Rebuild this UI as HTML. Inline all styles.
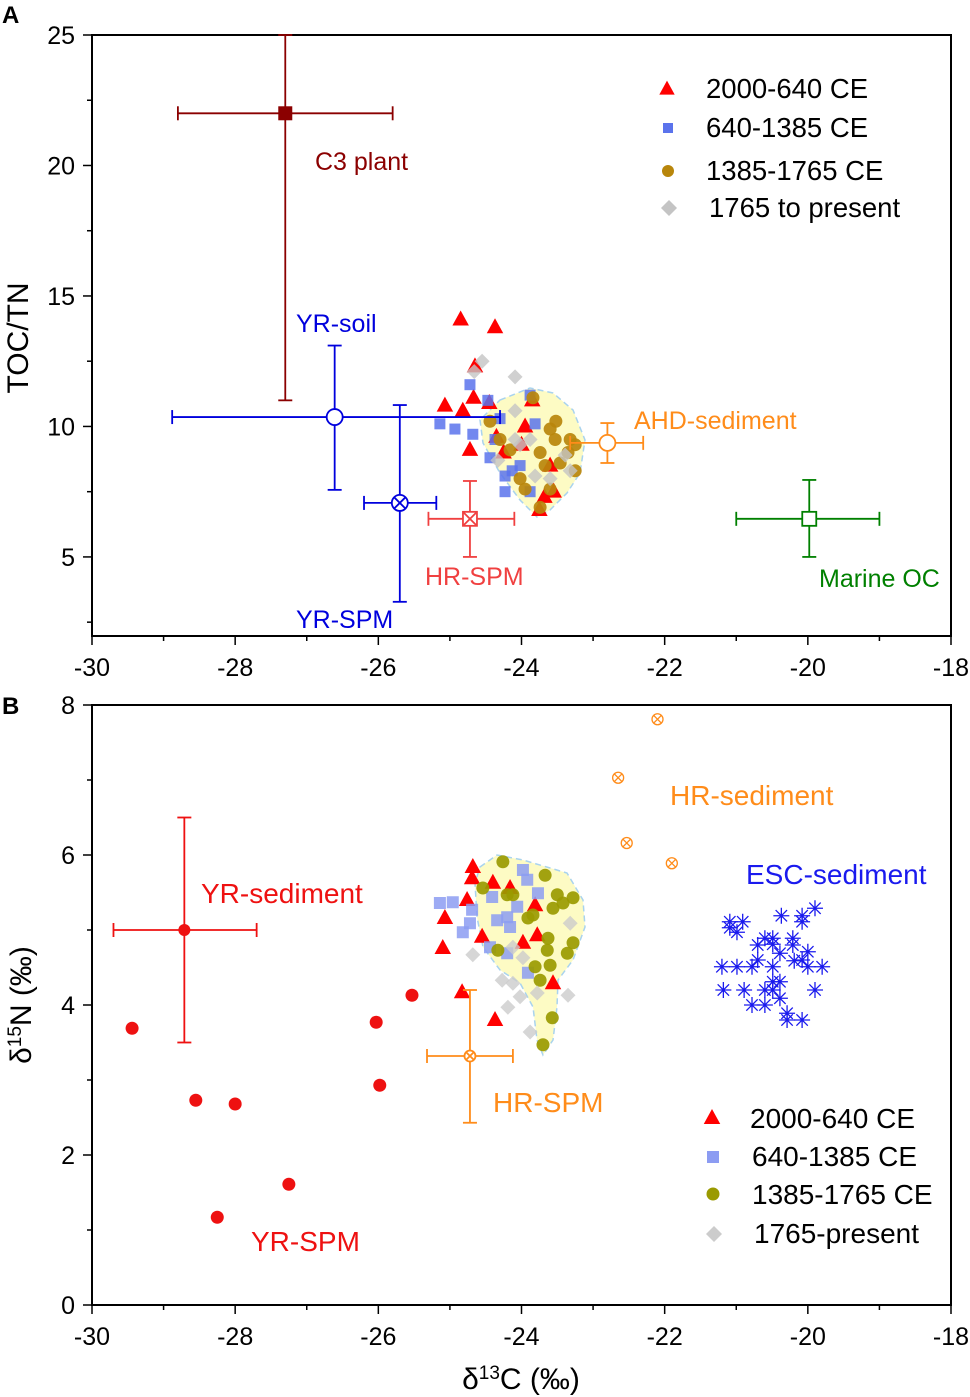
<!DOCTYPE html>
<html><head><meta charset="utf-8"><style>
html,body{margin:0;padding:0;background:#fff;}
svg{display:block;font-family:"Liberation Sans",Arial,sans-serif;}
</style></head><body>
<svg id="chart" width="970" height="1397" viewBox="0 0 970 1397" xmlns="http://www.w3.org/2000/svg">
<g id="A"></g>
<g id="B"></g>
</svg>
<script>
// ---- data ----
const xTicks=[-30,-28,-26,-24,-22,-20,-18];
const yTicksA=[5,10,15,20,25];
const yTicksB=[0,2,4,6,8];
const triA=[[-24.85,14.1],[-24.37,13.8],[-24.65,12.3],[-25.07,10.8],[-24.82,10.6],[-24.67,11.1],[-24.72,9.1],[-24.45,10.9],[-23.85,11.0],[-23.95,10.0],[-24.25,9.0],[-24.35,9.6],[-23.68,7.3],[-23.75,6.8],[-23.55,7.5],[-24.0,9.3],[-23.6,8.5]];
const sqA=[[-24.72,11.6],[-24.47,11.0],[-25.14,10.1],[-24.93,9.9],[-24.68,9.7],[-24.44,8.8],[-24.23,8.1],[-24.23,7.5],[-23.88,7.5],[-23.88,11.2],[-23.81,10.1],[-24.13,8.3],[-24.02,8.5],[-24.3,10.3],[-24.37,9.5]];
const ciA=[[-23.84,11.1],[-23.52,10.2],[-23.6,9.9],[-23.53,9.5],[-23.32,9.5],[-23.74,9.0],[-23.67,8.5],[-23.46,8.6],[-23.25,8.3],[-23.6,7.6],[-23.95,7.6],[-24.02,8.0],[-24.3,9.5],[-24.44,10.2],[-23.35,9.0],[-23.74,6.9],[-24.16,9.1],[-23.25,9.3]];
const diA=[[-24.55,12.5],[-24.66,12.1],[-24.09,11.9],[-24.09,10.6],[-24.09,9.5],[-24.33,8.7],[-23.88,9.5],[-23.32,8.3],[-23.39,8.9],[-23.6,8.0],[-24.02,9.3],[-23.81,8.1]];
// endmembers A: [x, y, xlo, xhi, ylo, yhi]
const c3A=[-27.3,22.0,-28.8,-25.8,11.0,25.0];
const yrSoilA=[-26.61,10.36,-28.88,-24.3,7.57,13.1];
const yrSpmA=[-25.7,7.07,-26.2,-25.19,3.28,10.82];
const hrSpmA=[-24.72,6.46,-25.3,-24.1,5.0,7.91];
const ahdA=[-22.8,9.37,-23.32,-22.3,8.6,10.13];
const marineA=[-19.98,6.46,-21.0,-19.0,5.0,7.95];

const triB=[[-24.68,5.84],[-24.69,5.69],[-25.07,5.16],[-25.10,4.76],[-24.83,4.17],[-24.37,3.80],[-24.40,5.63],[-24.16,5.56],[-23.81,5.33],[-23.78,4.93],[-23.98,4.83],[-24.76,5.40],[-24.55,4.91],[-23.56,4.29]];
const sqB=[[-25.14,5.36],[-24.96,5.37],[-24.69,5.27],[-24.72,5.09],[-24.82,4.97],[-23.98,5.80],[-23.92,5.67],[-23.77,5.49],[-24.06,5.31],[-24.20,5.17],[-24.34,5.13],[-24.16,5.04],[-24.44,4.77],[-24.20,4.69],[-23.91,4.43],[-24.41,5.44]];
const ciB=[[-24.26,5.91],[-23.67,5.73],[-24.54,5.56],[-24.20,5.47],[-24.12,5.47],[-23.50,5.47],[-23.28,5.43],[-23.56,5.29],[-23.42,5.36],[-23.84,5.20],[-23.91,5.16],[-23.63,4.89],[-23.64,4.73],[-23.28,4.83],[-23.36,4.69],[-24.33,4.73],[-23.81,4.51],[-23.60,4.53],[-23.74,4.33],[-23.57,3.83],[-23.70,3.47]];
const diB=[[-24.68,4.67],[-23.32,5.09],[-24.27,4.33],[-24.12,4.29],[-24.02,4.11],[-24.19,3.97],[-23.88,3.64],[-23.35,4.13],[-23.78,4.16],[-23.98,4.63],[-24.12,4.77]];
const yrSpmB=[[-29.44,3.69],[-28.55,2.73],[-28.0,2.68],[-27.25,1.61],[-28.25,1.17],[-26.03,3.77],[-25.98,2.93],[-25.53,4.13]];
const yrSedB=[-28.71,5.0,-29.7,-27.7,3.5,6.5];
const hrSpmB=[-24.72,3.32,-25.32,-24.12,2.43,4.2];
const hrSedB=[[-22.1,7.81],[-22.65,7.03],[-22.53,6.16],[-21.9,5.89]];
const escB=[[-19.90,5.29],[-20.37,5.19],[-20.08,5.19],[-20.08,5.11],[-21.09,5.11],[-20.91,5.11],[-21.09,5.03],[-20.99,4.97],[-20.60,4.89],[-20.49,4.89],[-20.21,4.89],[-20.70,4.80],[-20.49,4.81],[-20.21,4.80],[-20.39,4.69],[-20.00,4.71],[-20.70,4.60],[-20.19,4.59],[-20.08,4.60],[-21.20,4.51],[-20.99,4.51],[-20.78,4.51],[-20.49,4.51],[-20.00,4.51],[-19.80,4.51],[-20.49,4.31],[-20.39,4.31],[-21.18,4.20],[-20.89,4.20],[-20.60,4.20],[-20.49,4.20],[-19.90,4.20],[-20.78,4.00],[-20.60,4.00],[-20.39,4.09],[-20.29,3.89],[-20.29,3.80],[-20.08,3.80]];

// ---- helpers ----
const NS="http://www.w3.org/2000/svg";
function mk(tag,attrs,parent){const e=document.createElementNS(NS,tag);for(const k in attrs)e.setAttribute(k,attrs[k]);parent.appendChild(e);return e;}
const X0=92,X1=951;
const sx=v=>X0+(v+30)/12*(X1-X0);
const pA={top:35,bot:636,min:1.97,max:25,labelY:23};
const pB={top:705,bot:1305,min:0,max:8,labelY:714};
const syA=v=>pA.top+(pA.max-v)/(pA.max-pA.min)*(pA.bot-pA.top);
const syB=v=>pB.top+(pB.max-v)/(pB.max-pB.min)*(pB.bot-pB.top);

function axes(g,p,sy,yTicks,yMinor,label){
  const f=mk('rect',{x:X0,y:p.top,width:X1-X0,height:p.bot-p.top,fill:'none',stroke:'#000','stroke-width':2},g);
  
  for(let v=-30;v<=-18;v+=1){const t=mk('line',{x1:sx(v),x2:sx(v),y1:p.bot,y2:p.bot+(v%2===0?9:5),stroke:'#000','stroke-width':1.5},g);}
  xTicks.forEach(v=>{const t=mk('text',{x:sx(v),y:p.bot+40,'font-size':25,'text-anchor':'middle'},g);t.textContent=v;});
  const start=Math.ceil(p.min/yMinor-1e-6);
  for(let k=start;k*yMinor<=p.max+1e-6;k++){const v=k*yMinor;const maj=yTicks.some(t=>Math.abs(t-v)<1e-6);const t=mk('line',{x1:X0-(maj?9:5),x2:X0,y1:sy(v),y2:sy(v),stroke:'#000','stroke-width':1.5},g);}
  yTicks.forEach(v=>{const t=mk('text',{x:X0-17,y:sy(v)+9,'font-size':25,'text-anchor':'end'},g);t.textContent=v;});
  const pl=mk('text',{x:2,y:p.labelY,'font-size':24,'font-weight':'bold'},g);pl.textContent=label;
}
function tri(g,x,y,s,fill,op){return mk('polygon',{points:`${x},${y-s*0.6} ${x+s*0.55},${y+s*0.4} ${x-s*0.55},${y+s*0.4}`,fill:fill,'fill-opacity':op},g);}
function sq(g,x,y,s,fill,op){return mk('rect',{x:x-s/2,y:y-s/2,width:s,height:s,fill:fill,'fill-opacity':op},g);}
function ci(g,x,y,r,fill,op){return mk('circle',{cx:x,cy:y,r:r,fill:fill,'fill-opacity':op},g);}
function di(g,x,y,s,fill,op){return mk('polygon',{points:`${x},${y-s} ${x+s},${y} ${x},${y+s} ${x-s},${y}`,fill:fill,'fill-opacity':op},g);}
function errbar(g,d,sy,color,name){
  const gg=mk('g',{stroke:color,'stroke-width':1.8,fill:'none'},g);
  
  const x=sx(d[0]),y=sy(d[1]);
  mk('line',{x1:sx(d[2]),x2:sx(d[3]),y1:y,y2:y},gg);
  mk('line',{x1:x,x2:x,y1:sy(d[4]),y2:sy(d[5])},gg);
  [d[2],d[3]].forEach(v=>mk('line',{x1:sx(v),x2:sx(v),y1:y-7,y2:y+7},gg));
  [d[4],d[5]].forEach(v=>mk('line',{x1:x-7,x2:x+7,y1:sy(v),y2:sy(v)},gg));
  return [gg,x,y];
}
function txt(g,x,y,s,color,size,name){const t=mk('text',{x:x,y:y,fill:color,'font-size':size},g);t.textContent=s;return t;}

// ---- Panel A ----
const A=document.getElementById('A');
axes(A,pA,syA,yTicksA,2.5,'A');
const yt=txt(A,0,0,'TOC/TN','#000',30,'y-axis-title');yt.setAttribute('transform','translate(28,338) rotate(-90)');yt.setAttribute('text-anchor','middle');
const blobA=mk('path',{d:'M500,400 L530,388 L553,393 L573,410 L585,440 L580,473 L567,493 L550,510 L537,517 L520,500 L500,473 L483,443 L480,420 Z',fill:'#fdfbc4',stroke:'#a9d3ee','stroke-width':1.5,'stroke-dasharray':'6,4'},A);

triA.forEach(d=>{const e=tri(A,sx(d[0]),syA(d[1]),15,'#ff0000',1);});
sqA.forEach(d=>{const e=sq(A,sx(d[0]),syA(d[1]),11,'#5b73ec',0.85);});
ciA.forEach(d=>{const e=ci(A,sx(d[0]),syA(d[1]),6.5,'#b8860b',0.92);});
diA.forEach(d=>{const e=di(A,sx(d[0]),syA(d[1]),7.5,'#c4c4c4',0.8);});
let r;
r=errbar(A,c3A,syA,'#8b0000','c3-plant-errorbar');mk('rect',{x:r[1]-7,y:r[2]-7,width:14,height:14,fill:'#8b0000',stroke:'none'},r[0]);
txt(A,315,170,'C3 plant','#8b0000',25,'c3-plant-label');
r=errbar(A,yrSoilA,syA,'#0000dd','yr-soil-errorbar');mk('circle',{cx:r[1],cy:r[2],r:8,fill:'#fff'},r[0]);
txt(A,296,332,'YR-soil','#0000dd',25,'yr-soil-label');
r=errbar(A,yrSpmA,syA,'#0000dd','yr-spm-errorbar');mk('circle',{cx:r[1],cy:r[2],r:8,fill:'#fff'},r[0]);mk('path',{d:`M${r[1]-5.6},${r[2]-5.6}L${r[1]+5.6},${r[2]+5.6}M${r[1]+5.6},${r[2]-5.6}L${r[1]-5.6},${r[2]+5.6}`},r[0]);
txt(A,296,628,'YR-SPM','#0000dd',25,'yr-spm-label');
r=errbar(A,hrSpmA,syA,'#f04040','hr-spm-errorbar');mk('rect',{x:r[1]-7,y:r[2]-7,width:14,height:14,fill:'#fff'},r[0]);mk('path',{d:`M${r[1]-7},${r[2]-7}L${r[1]+7},${r[2]+7}M${r[1]+7},${r[2]-7}L${r[1]-7},${r[2]+7}`},r[0]);
txt(A,425,585,'HR-SPM','#f04040',25,'hr-spm-label');
r=errbar(A,ahdA,syA,'#ff8c1a','ahd-errorbar');mk('circle',{cx:r[1],cy:r[2],r:8,fill:'#fff'},r[0]);
txt(A,634,429,'AHD-sediment','#ff8c1a',25,'ahd-sediment-label');
r=errbar(A,marineA,syA,'#008000','marine-oc-errorbar');mk('rect',{x:r[1]-7,y:r[2]-7,width:14,height:14,fill:'#fff'},r[0]);
txt(A,819,587,'Marine OC','#008000',25,'marine-oc-label');
// legend A
const lgA=mk('g',{},A);
tri(lgA,667,89,14,'#ff0000',1);txt(lgA,706,98,'2000-640 CE','#000',27.5,'legend-entry');
sq(lgA,668,128,10,'#5b73ec',1);txt(lgA,706,137,'640-1385 CE','#000',27.5,'legend-entry');
ci(lgA,668,171,6,'#b8860b',1);txt(lgA,706,180,'1385-1765 CE','#000',27.5,'legend-entry');
di(lgA,669,208,8,'#c4c4c4',1);txt(lgA,709,217,'1765 to present','#000',27.5,'legend-entry');

// ---- Panel B ----
const B=document.getElementById('B');
axes(B,pB,syB,yTicksB,1,'B');
const yb=mk('text',{transform:'translate(31,1005) rotate(-90)','font-size':30,'text-anchor':'middle'},B);

yb.innerHTML='δ<tspan baseline-shift="super" font-size="19">15</tspan>N (‰)';
const xb=mk('text',{x:521,y:1389,'font-size':30,'text-anchor':'middle'},B);

xb.innerHTML='δ<tspan baseline-shift="super" font-size="19">13</tspan>C (‰)';
const blobB=mk('path',{d:'M480,867 L497,855 L523,860 L567,873 L583,900 L585,927 L573,960 L558,980 L557,1007 L553,1040 L543,1055 L537,1040 L533,1007 L520,983 L500,970 L483,947 L477,917 L475,883 Z',fill:'#fdfbc4',stroke:'#a9d3ee','stroke-width':1.5,'stroke-dasharray':'6,4'},B);

triB.forEach(d=>{const e=tri(B,sx(d[0]),syB(d[1]),15,'#ff0000',1);});
sqB.forEach(d=>{const e=sq(B,sx(d[0]),syB(d[1]),12,'#8c9cf2',0.85);});
ciB.forEach(d=>{const e=ci(B,sx(d[0]),syB(d[1]),6.5,'#9a9a00',0.92);});
diB.forEach(d=>{const e=di(B,sx(d[0]),syB(d[1]),7.5,'#cccccc',0.8);});
yrSpmB.forEach(d=>{const e=ci(B,sx(d[0]),syB(d[1]),6.5,'#ee1111',1);});
r=errbar(B,yrSedB,syB,'#ee1111','yr-sediment-errorbar');mk('circle',{cx:r[1],cy:r[2],r:6,fill:'#ee1111',stroke:'none'},r[0]);
txt(B,201,903,'YR-sediment','#ee1111',28,'yr-sediment-label');
txt(B,251,1251,'YR-SPM','#ee1111',28,'yr-spm-label');
r=errbar(B,hrSpmB,syB,'#ff8c1a','hr-spm-errorbar');mk('circle',{cx:r[1],cy:r[2],r:5.5,fill:'#fff'},r[0]);mk('path',{d:`M${r[1]-3.9},${r[2]-3.9}L${r[1]+3.9},${r[2]+3.9}M${r[1]+3.9},${r[2]-3.9}L${r[1]-3.9},${r[2]+3.9}`},r[0]);
txt(B,493,1112,'HR-SPM','#ff8c1a',28,'hr-spm-label');
hrSedB.forEach(d=>{const x=sx(d[0]),y=syB(d[1]);const g=mk('g',{stroke:'#ff8c1a','stroke-width':1.3,fill:'#fff'},B);mk('circle',{cx:x,cy:y,r:5.5},g);mk('path',{d:`M${x-3.9},${y-3.9}L${x+3.9},${y+3.9}M${x+3.9},${y-3.9}L${x-3.9},${y+3.9}`},g);});
txt(B,670,805,'HR-sediment','#ff8c1a',28,'hr-sediment-label');
escB.forEach(d=>{const x=sx(d[0]),y=syB(d[1]),s=8;const e=mk('path',{d:`M${x-s},${y}H${x+s}M${x},${y-s}V${y+s}M${x-5.7},${y-5.7}L${x+5.7},${y+5.7}M${x+5.7},${y-5.7}L${x-5.7},${y+5.7}`,stroke:'#1a1aee','stroke-width':1.3,fill:'none'},B);});
txt(B,746,884,'ESC-sediment','#1a1aee',28,'esc-sediment-label');
const lgB=mk('g',{},B);
tri(lgB,712,1118,15,'#ff0000',1);txt(lgB,750,1128,'2000-640 CE','#000',28,'legend-entry');
sq(lgB,713,1157,12,'#8c9cf2',1);txt(lgB,752,1166,'640-1385 CE','#000',28,'legend-entry');
ci(lgB,713,1194,6.5,'#9a9a00',1);txt(lgB,752,1204,'1385-1765 CE','#000',28,'legend-entry');
di(lgB,714,1234,8,'#cccccc',1);txt(lgB,754,1243,'1765-present','#000',28,'legend-entry');
</script>
</body></html>
